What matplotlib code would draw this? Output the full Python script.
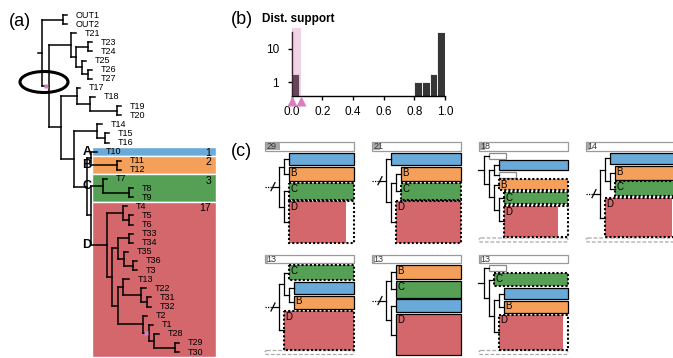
import matplotlib.pyplot as plt
import numpy as np
from matplotlib.patches import Ellipse, FancyBboxPatch, Rectangle
from matplotlib.ticker import NullLocator
from matplotlib.transforms import blended_transform_factory

plt.rcParams["font.family"] = ["Liberation Sans", "DejaVu Sans"]

# ---- (a) full tree, Newick with branch lengths; "*" marks low-support branches
clade_d = ("((T4:4,(T5:4,T6:4):6):16,"
           "(((T33:4,T34:4):11,(T35:4,(T36:4,T3:4):9):6):6,"
           "((T13:6,(T22:5,(T31:4,T32:4):6):18):5,"
           "(T2:4,(T1:4,(T28:5,(T29:4,T30:4):21):5)*:6):25):6):5):16")
clade_c = "(T7:4,(T8:4,T9:4):26):12"
clade_ab = "(T10:6,(T11:4,T12:4):26):4"
abcd = "(" + clade_ab + ",(" + clade_c + "," + clade_d + "):4):13"
rest2 = "((T14:5,(T15:4,T16:4):8):23," + abcd + "):13"
rest = "((T17:3,(T18:5,(T19:4,T20:4):27):13):16," + rest2 + "):12"
ingroup = "((T21:5,((T23:4,T24:4):12,(T25:4,(T26:4,T27:4):6):6):5):22," + rest + ")*:7"
main_tree = "((OUT1:4,OUT2:4):21," + ingroup + ");"

clade_labels = ["A", "B", "C", "D"]
clade_tips = [
    ["T10"],
    ["T11", "T12"],
    ["T7", "T8", "T9"],
    ["T4", "T5", "T6", "T33", "T34", "T35", "T36", "T3", "T13",
     "T22", "T31", "T32", "T2", "T1", "T28", "T29", "T30"],
]
clade_colors = ["#6aaad8", "#f5a05a", "#55a055", "#d4676b"]

# ---- (b) distance support histogram
bin_starts = [0.0, 0.80, 0.85, 0.90, 0.95]
bin_counts = [2, 1, 1, 2, 25]
marked_support = [0.005, 0.06]

# ---- (c) alternative topologies
panel_counts = [29, 21, 18, 14, 13, 13, 13]
panel_trees = ["((A,B),(C,D))", "(A,((B,C),D))", "(X,((A,X),(B,(C,D))))",
               "((A,(B,C)),D)", "((C,(A,B)),D)", "((B,C),(A,D))",
               "(X,(C,((A,B),D)))"]
panel_dotted = ["CD", "CD", "BCD", "CD", "CD", "", "CD"]
panel_d_fill = [0.88, 1.0, 0.84, 0.95, 1.0, 1.0, 0.93]
panel_collapsed = [False, False, True, True, True, False, True]


def parse_newick(s):
    pos = 0

    def read():
        nonlocal pos
        kids = []
        if s[pos] == "(":
            pos += 1
            kids.append(read())
            while s[pos] == ",":
                pos += 1
                kids.append(read())
            pos += 1
        start = pos
        while s[pos] not in ",():;":
            pos += 1
        name = s[start:pos]
        length = 0.0
        if s[pos] == ":":
            pos += 1
            start = pos
            while s[pos] not in ",();":
                pos += 1
            length = float(s[start:pos])
        return {"name": name, "len": length, "kids": kids}

    return read()


def leaf_names(n):
    if not n["kids"]:
        return [n["name"]]
    return [t for k in n["kids"] for t in leaf_names(k)]


def place(n, x_parent, leaf_y, nodes, leaves):
    n["x0"] = x_parent
    n["x"] = x_parent + n["len"]
    if n["kids"]:
        for k in n["kids"]:
            place(k, n["x"], leaf_y, nodes, leaves)
        n["y"] = (n["kids"][0]["y"] + n["kids"][-1]["y"]) / 2
        n["tips"] = [t for k in n["kids"] for t in k["tips"]]
    else:
        n["y"] = leaf_y[len(leaves)]
        n["tips"] = [n["name"]]
        leaves.append(n)
    nodes.append(n)


def draw_edges(ax, nodes, lw):
    for n in nodes:
        ax.plot([n["x0"], n["x"]], [n["y"], n["y"]], color="k", lw=lw, zorder=3)
        if n["kids"]:
            ax.plot([n["x"], n["x"]], [n["kids"][0]["y"], n["kids"][-1]["y"]],
                    color="k", lw=lw, zorder=3)


W, H = 673, 358
fig = plt.figure(figsize=(W / 100, H / 100), dpi=100)
ax = fig.add_axes([0, 0, 1, 1])
ax.set_xlim(0, W)
ax.set_ylim(H, 0)
ax.axis("off")

# ---------------- (a)
root = parse_newick(main_tree)
nodes, leaves = [], []
n_leaves = len(leaf_names(root))
place(root, 42, [15 + 9.11 * i for i in range(n_leaves)], nodes, leaves)
draw_edges(ax, nodes, 1.1)
ax.plot([38, 42], [root["y"], root["y"]], color="k", lw=1.1, zorder=3)

for n in leaves:
    ax.text(n["x"] + 9, n["y"], n["name"], fontsize=6.5, va="center", ha="left", zorder=4)
for n in nodes:
    if n["name"] == "*":
        ax.plot((n["x0"] + n["x"]) / 2, n["y"], "s", ms=3, color="#cf7fc4",
                mec="none", zorder=4)

for lab, tips, col in zip(clade_labels, clade_tips, clade_colors):
    crown = [n for n in nodes if sorted(n["tips"]) == sorted(tips)][0]
    ys = [n["y"] for n in leaves if n["name"] in tips]
    top, bot = min(ys) - 4.5, max(ys) + 4.5
    left = crown["x0"] + 1
    ax.add_patch(Rectangle((left, top), 216 - left, bot - top, fc=col,
                           ec="white", lw=1, zorder=1))
    ax.text(211, top + 1.2, str(len(tips)), fontsize=7.5, ha="right", va="top", zorder=4)
    ax.text(crown["x0"] - 4, crown["y"], lab, fontsize=9, fontweight="bold",
            ha="center", va="center", zorder=5)

ax.add_patch(Ellipse((44, 82), 48, 21, fill=False, ec="k", lw=2.2, zorder=5))
ax.text(9, 21, "(a)", fontsize=13, va="center", ha="left")

# ---------------- (b)
ax.text(231, 20, "(b)", fontsize=13, va="center", ha="left")
ax.text(262, 19, "Dist. support", fontsize=8.5, fontweight="bold", va="center", ha="left")

axb = fig.add_axes([291.5 / W, 1 - 96 / H, 153.5 / W, 64.3 / H])
axb.set_facecolor("none")


def fwd(v):
    return np.log10(np.maximum(np.asarray(v, dtype=float), 0) + 1)


def inv(u):
    return 10 ** np.asarray(u, dtype=float) - 1


axb.set_yscale("function", functions=(fwd, inv))
axb.bar(bin_starts, bin_counts, width=0.05, align="edge", color="#363636",
        edgecolor="white", linewidth=0.6, zorder=2)
axb.axvspan(0, 0.06, ymin=0, ymax=1.06, color="#d470ac", alpha=0.3, lw=0,
            zorder=3, clip_on=False)
trans = blended_transform_factory(axb.transData, axb.transAxes)
axb.plot(marked_support, [-0.07] * len(marked_support), marker="^", ls="none",
         ms=7, color="#d77fc0", mec="none", transform=trans, clip_on=False, zorder=5)
axb.set_xlim(0, 1)
axb.set_ylim(0, 25)
axb.set_xticks([0, 0.2, 0.4, 0.6, 0.8, 1.0])
axb.set_xticklabels(["0.0", "0.2", "0.4", "0.6", "0.8", "1.0"])
axb.set_yticks([1, 10])
axb.set_yticklabels(["1", "10"])
axb.yaxis.set_minor_locator(NullLocator())
for s in ["top", "right"]:
    axb.spines[s].set_visible(False)
for s in ["left", "bottom"]:
    axb.spines[s].set_linewidth(1.0)
axb.tick_params(axis="both", direction="out", length=3, width=1, labelsize=8.5)
axb.tick_params(axis="x", pad=4)
axb.tick_params(axis="y", pad=6)

# ---------------- (c)
ax.text(231, 152, "(c)", fontsize=13, va="center", ha="left")

col_x = [265, 372, 479, 586]
row_y = [142, 254.5]
panel_w = 89
color_of = dict(zip(clade_labels, clade_colors))
size_of = {lab: len(t) for lab, t in zip(clade_labels, clade_tips)}

for i, (count, topo, dotted, d_fill, collapsed) in enumerate(
        zip(panel_counts, panel_trees, panel_dotted, panel_d_fill, panel_collapsed)):
    x0 = col_x[i % 4] if i < 4 else col_x[i - 4]
    y0 = row_y[0] if i < 4 else row_y[1]
    right = x0 + panel_w

    # header bar
    ax.add_patch(Rectangle((x0, y0), panel_w, 8.5, fc="white", ec="#9a9a9a", lw=0.9))
    fill_w = 14 * (count / max(panel_counts)) ** 2
    ax.add_patch(Rectangle((x0 + 0.5, y0 + 0.5), fill_w, 7.5, fc="#a9a9a9", ec="none"))
    ax.text(x0 + 1.5, y0 + 4.6, str(count), fontsize=6.5, va="center", ha="left",
            color="#333333")

    tree = parse_newick(topo + ";")
    names = leaf_names(tree)
    has_out = "X" in names
    top = y0 + 10.5
    bottom = y0 + 101 - (6 if collapsed else 0)
    gap = 1.8
    n_x = names.count("X")
    weights = [6 + size_of[nm] for nm in names if nm != "X"]
    scale = (bottom - top - gap * (len(names) - 1) - 6 * n_x) / sum(weights)
    heights = [6 if nm == "X" else (6 + size_of[nm]) * scale for nm in names]
    tops = top + np.concatenate([[0], np.cumsum(np.array(heights) + gap)[:-1]])
    centers = list(tops + np.array(heights) / 2)

    root_x = x0 + (5 if has_out else 14)
    mini_nodes, mini_leaves = [], []
    stack = [tree]
    while stack:
        nd = stack.pop()
        nd["len"] = 5
        stack.extend(nd["kids"])
    tree["len"] = 0
    place(tree, root_x, centers, mini_nodes, mini_leaves)
    draw_edges(ax, mini_nodes, 0.9)

    ry = tree["y"]
    if has_out:
        ax.plot([root_x - 6, root_x], [ry, ry], color="k", lw=0.9)
    else:
        ax.plot([x0, root_x - 6], [ry, ry], color="k", lw=0.9, ls=(0, (1, 1)))
        ax.plot([root_x - 6, root_x], [ry, ry], color="k", lw=0.9)
        ax.plot([root_x - 8, root_x - 4], [ry + 4, ry - 4], color="k", lw=0.9)

    for lf, tp, h in zip(mini_leaves, tops, heights):
        lx = lf["x"]
        nm = lf["name"]
        if nm == "X":
            ax.add_patch(Rectangle((lx, tp), 17, h, fc="white", ec="#8a8a8a", lw=0.9,
                                   zorder=2))
            continue
        frac = d_fill if nm == "D" else 1.0
        if nm in dotted:
            ax.add_patch(Rectangle((lx, tp), (right - lx) * frac, h, fc=color_of[nm],
                                   ec="none", zorder=1))
            ax.add_patch(Rectangle((lx, tp), right - lx, h, fill=False, ec="k",
                                   lw=1.5, ls=(0, (1, 1)), zorder=2))
        else:
            ax.add_patch(Rectangle((lx, tp), right - lx, h, fc=color_of[nm],
                                   ec="k", lw=0.9, zorder=1))
        if nm != "A":
            ax.text(lx + 1.5, tp + 0.8, nm, fontsize=7, va="top", ha="left", zorder=4)

    if collapsed:
        ax.add_patch(FancyBboxPatch((x0, bottom + 1), panel_w, 4,
                                    boxstyle="round,pad=0,rounding_size=2",
                                    fill=False, ec="#aaaaaa", lw=0.9, ls=(0, (3, 1.5))))

fig.savefig("out.png", dpi=100)
plt.close(fig)
